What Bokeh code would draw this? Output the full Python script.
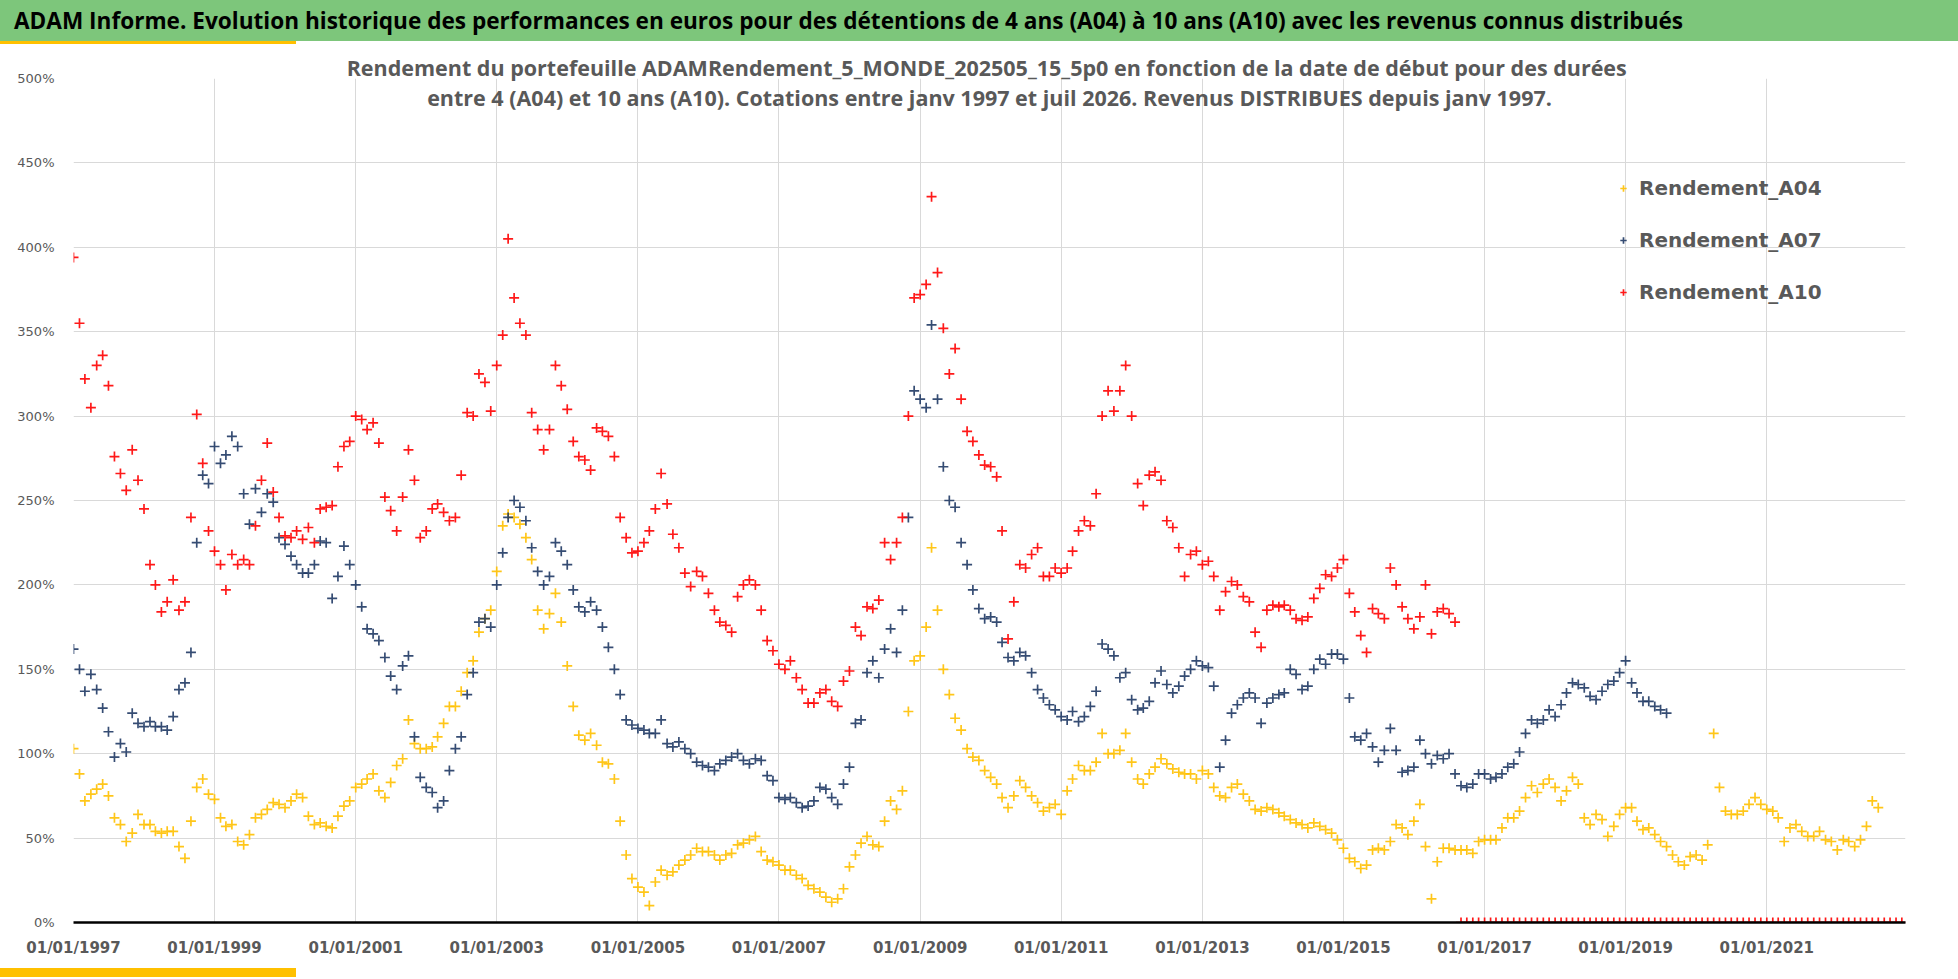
import pandas as pd
from bokeh.plotting import figure
from bokeh.models import (Range1d, FixedTicker, DatetimeTickFormatter, PrintfTickFormatter,
                          Label, Div, ColumnDataSource)
from bokeh.layouts import column
from bokeh.embed import file_html
from bokeh.resources import INLINE

# ---------------- data (monthly readings, start 01/1997) ----------------
START = "1997-01-01"

A04 = [
    103, 88, 72, 76, 79, 82, 75, 62, 58, 48, 53, 64,        # 1997
    58, 58, 54, 53, 54, 54, 45, 38, 60, 80, 85, 76,         # 1998
    73, 62, 57, 58, 48, 46, 52, 62, 64, 67, 71, 70,         # 1999
    68, 72, 76, 74, 63, 58, 59, 57, 56, 63, 69, 72,         # 2000
    80, 82, 85, 88, 78, 74, 83, 93, 97, 120, 106, 103,      # 2001
    103, 104, 110, 118, 128, 128, 137, 148, 155, 172, 180, 185,  # 2002
    208, 235, 242, 240, 236, 228, 215, 185, 174, 183, 195, 178,  # 2003
    152, 128, 111, 108, 112, 105, 95, 94, 85, 60, 40, 26,   # 2004
    21, 18, 10, 24, 31, 28, 30, 34, 37, 40, 44, 42,         # 2005
    42, 40, 37, 40, 41, 46, 47, 49, 51, 42, 37, 36,         # 2006
    34, 31, 31, 28, 26, 22, 20, 18, 15, 12, 14, 20,         # 2007
    33, 40, 47, 51, 46, 45, 60, 72, 67, 78, 125, 155,       # 2008
    158, 175, 222, 185, 150, 135, 121, 114, 103, 98, 96, 90,  # 2009
    86, 82, 74, 68, 75, 84, 80, 75, 71, 66, 68, 70,         # 2010
    64, 78, 85, 93, 90, 90, 95, 112, 100, 100, 102, 112,    # 2011
    95, 85, 82, 88, 92, 97, 94, 91, 89, 88, 88, 85,         # 2012
    90, 88, 80, 75, 74, 80, 82, 76, 72, 67, 66, 68,         # 2013
    67, 65, 63, 61, 59, 58, 56, 59, 57, 55, 53, 49,         # 2014
    44, 38, 36, 32, 34, 43, 44, 43, 48, 58, 56, 52,         # 2015
    60, 70, 45, 14, 36, 44, 44, 43, 43, 43, 41, 48,         # 2016
    49, 49, 49, 56, 62, 62, 66, 74, 81, 77, 82, 85,         # 2017
    80, 72, 78, 86, 82, 62, 58, 64, 61, 51, 57, 64,         # 2018
    68, 68, 60, 55, 56, 52, 48, 45, 40, 36, 34, 39,         # 2019
    40, 37, 46, 112, 80, 66, 64, 64, 66, 70, 74, 70,        # 2020
    67, 66, 62, 48, 56, 58, 54, 51, 51, 54, 49, 48,         # 2021
    43, 49, 48, 45, 49, 57, 72, 68,                         # 2022
]

A07 = [
    162, 150, 137, 147, 138, 127, 113, 98, 106, 101, 124, 118,   # 1997
    116, 119, 116, 116, 114, 122, 138, 142, 160, 225, 265, 260,  # 1998
    282, 272, 277, 288, 282, 254, 236, 257, 243, 254, 249, 228,  # 1999
    224, 217, 212, 207, 207, 212, 226, 225, 192, 205, 223, 212,  # 2000
    200, 187, 174, 171, 167, 157, 146, 138, 152, 158, 110, 86,   # 2001
    80, 77, 68, 72, 90, 103, 110, 135, 148, 178, 180, 175,       # 2002
    200, 219, 240, 250, 246, 238, 222, 208, 200, 205, 225, 220,  # 2003
    212, 197, 187, 184, 190, 185, 175, 163, 150, 135, 120, 117,  # 2004
    115, 114, 112, 112, 120, 106, 104, 107, 103, 100, 95, 93,    # 2005
    92, 90, 94, 96, 98, 100, 96, 94, 97, 96, 87, 84,             # 2006
    74, 73, 74, 71, 68, 69, 72, 80, 79, 74, 70, 82,              # 2007
    92, 118, 120, 148, 155, 145, 162, 174, 160, 185, 240, 315,   # 2008
    310, 305, 354, 310, 270, 250, 246, 225, 212, 197, 186, 180,  # 2009
    181, 178, 166, 157, 155, 160, 158, 148, 138, 133, 129, 126,  # 2010
    122, 120, 125, 119, 122, 128, 137, 165, 162, 158, 145, 148,  # 2011
    132, 126, 127, 131, 142, 149, 141, 136, 140, 146, 150, 155,  # 2012
    152, 151, 140, 92, 108, 124, 129, 133, 136, 133, 118, 130,   # 2013
    133, 135, 136, 150, 147, 138, 140, 150, 156, 153, 159, 159,  # 2014
    156, 133, 110, 108, 112, 104, 95, 102, 115, 102, 89, 90,     # 2015
    92, 108, 100, 94, 99, 97, 100, 88, 81, 80, 82, 88,           # 2016
    88, 85, 86, 88, 92, 94, 101, 112, 120, 118, 120, 126,        # 2017
    122, 129, 136, 142, 141, 139, 134, 132, 137, 141, 143, 148,  # 2018
    155, 142, 136, 131, 131, 128, 126, 124,                      # 2019
]

A10 = [
    394, 355, 322, 305, 330, 336, 318, 276, 266, 256, 280, 262,  # 1997
    245, 212, 200, 184, 190, 203, 185, 190, 240, 301, 272, 232,  # 1998
    220, 212, 197, 218, 212, 215, 212, 235, 262, 284, 255, 240,  # 1999
    229, 228, 232, 227, 234, 225, 245, 246, 247, 270, 282, 285,  # 2000
    300, 298, 292, 296, 284, 252, 244, 232, 252, 280, 262, 228,  # 2001
    232, 245, 248, 243, 238, 240, 265, 302, 300, 325, 320, 303,  # 2002
    330, 348, 405, 370, 355, 348, 302, 292, 280, 292, 330, 318,  # 2003
    304, 285, 276, 274, 268, 293, 291, 288, 276, 240, 228, 219,  # 2004
    220, 225, 232, 245, 266, 248, 230, 222, 207, 199, 208, 205,  # 2005
    195, 185, 178, 176, 172, 193, 200, 203, 200, 185, 167, 161,  # 2006
    153, 150, 155, 145, 138, 130, 130, 136, 138, 131, 128, 143,  # 2007
    149, 175, 170, 187, 186, 191, 225, 215, 225, 240, 300, 370,  # 2008
    372, 378, 430, 385, 352, 325, 340, 310, 291, 285, 277, 271,  # 2009
    270, 264, 232, 168, 190, 212, 210, 218, 222, 205, 205, 210,  # 2010
    207, 210, 220, 232, 238, 235, 254, 300, 315, 303, 315, 330,  # 2011
    300, 260, 247, 265, 267, 262, 238, 234, 222, 205, 218, 220,  # 2012
    212, 214, 205, 185, 196, 202, 200, 193, 190, 172, 163, 185,  # 2013
    188, 187, 188, 185, 180, 179, 181, 192, 198, 206, 205, 210,  # 2014
    215, 195, 184, 170, 160, 186, 183, 180, 210, 200, 187, 180,  # 2015
    174, 181, 200, 171, 184, 186, 183, 178,                      # 2016 (jan-aug)
    0, 0, 0, 0,                                                  # 2016 (sep-dec)
    0, 0, 0, 0, 0, 0, 0, 0, 0, 0, 0, 0,                          # 2017
    0, 0, 0, 0, 0, 0, 0, 0, 0, 0, 0, 0,                          # 2018
    0, 0, 0, 0, 0, 0, 0, 0, 0, 0, 0, 0,                          # 2019
    0, 0, 0, 0, 0, 0, 0, 0, 0, 0, 0, 0,                          # 2020
    0, 0, 0, 0, 0, 0, 0, 0, 0, 0, 0, 0,                          # 2021
    0, 0, 0, 0, 0, 0, 0, 0, 0, 0, 0, 0,                          # 2022
]

SERIES_NAMES = ["Rendement_A04", "Rendement_A07", "Rendement_A10"]
SERIES_COLORS = ["#FFC000", "#1F3864", "#FF0000"]

TICK_YEARS = [1997, 1999, 2001, 2003, 2005, 2007, 2009, 2011, 2013, 2015, 2017, 2019, 2021]
Y_TICKS = [0, 50, 100, 150, 200, 250, 300, 350, 400, 450, 500]

TITLE = ("ADAM Informe. Evolution historique des performances en euros pour des détentions "
         "de 4 ans (A04) à 10 ans (A10) avec les revenus connus distribués")
SUB1 = ("Rendement du portefeuille ADAMRendement_5_MONDE_202505_15_5p0  en fonction de la "
        "date de début pour des durées")
SUB2 = ("entre 4 (A04) et 10 ans (A10). Cotations entre janv 1997 et juil 2026. "
        "Revenus DISTRIBUES depuis janv 1997.")

X_START = pd.Timestamp("1997-01-01")
X_END = pd.Timestamp("2022-12-20")

W = 1958

# ---------------- figure ----------------
p = figure(width=W, height=921, x_axis_type="datetime", output_backend="svg",
           toolbar_location=None,
           x_range=Range1d(X_START, X_END), y_range=Range1d(0, 500),
           min_border_left=73, min_border_right=53, min_border_top=34, min_border_bottom=43)
p.outline_line_color = None
p.background_fill_color = "white"
p.border_fill_color = "white"

for vals, name, col in zip([A04, A07, A10], SERIES_NAMES, SERIES_COLORS):
    src = ColumnDataSource(dict(x=pd.date_range(START, periods=len(vals), freq="MS"), y=vals))
    p.scatter("x", "y", source=src, marker="cross", size=10, line_width=1.7,
              line_color=col, line_alpha=0.9, legend_label=name)

xticks = [pd.Timestamp(f"{y}-01-01").value / 1e6 for y in TICK_YEARS]
p.xaxis.ticker = FixedTicker(ticks=xticks)
p.xgrid.ticker = FixedTicker(ticks=xticks)
fmt = "%d/%m/%Y"
p.xaxis.formatter = DatetimeTickFormatter(days=fmt, months=fmt, years=fmt, hours=fmt,
                                          minutes=fmt, seconds=fmt, milliseconds=fmt)
p.yaxis.ticker = FixedTicker(ticks=Y_TICKS)
p.yaxis.formatter = PrintfTickFormatter(format="%d%%")

p.xgrid.grid_line_color = "#D9D9D9"
p.ygrid.grid_line_color = "#D9D9D9"
p.xgrid.grid_line_width = 1
p.ygrid.grid_line_width = 1

p.xaxis.axis_line_color = "black"
p.xaxis.axis_line_width = 2.5
p.xaxis.major_tick_line_color = None
p.xaxis.minor_tick_line_color = None
p.xaxis.major_label_text_font = "DejaVu Sans"
p.xaxis.major_label_text_font_style = "bold"
p.xaxis.major_label_text_font_size = "15px"
p.xaxis.major_label_text_color = "#595959"
p.xaxis.major_label_standoff = 10

p.yaxis.axis_line_color = None
p.yaxis.major_tick_line_color = None
p.yaxis.minor_tick_line_color = None
p.yaxis.major_label_text_font = "DejaVu Sans"
p.yaxis.major_label_text_font_size = "13px"
p.yaxis.major_label_text_color = "#595959"
p.yaxis.major_label_standoff = 13

# subtitle: first line as the figure title, second line inside the frame
p.title.text = SUB1
p.title.align = "center"
p.title.text_font = "Open Sans"
p.title.text_font_style = "bold"
p.title.text_font_size = "21.5px"
p.title.text_color = "#595959"
p.title.standoff = -6

x_mid = (X_START.value + X_END.value) / 2 / 1e6
p.add_layout(Label(x=x_mid, y=488.7, text=SUB2, text_align="center", text_baseline="middle",
                   text_font="Open Sans", text_font_style="bold", text_font_size="21.5px",
                   text_color="#595959"))

leg = p.legend[0]
leg.location = (1542, 618)
leg.border_line_color = None
leg.background_fill_alpha = 0
leg.padding = 0
leg.margin = 0
leg.spacing = 28
leg.glyph_width = 16
leg.glyph_height = 20
leg.label_height = 20
leg.label_standoff = 8
leg.label_text_font = "DejaVu Sans"
leg.label_text_font_style = "bold"
leg.label_text_font_size = "20px"
leg.label_text_color = "#595959"

top = Div(text=(
    f'<div style="width:{W}px;height:41px;background:#7DC67B;color:#000;'
    'font-family:\'Open Sans\';font-weight:bold;font-size:22.6px;line-height:41px;'
    'padding-left:14px;box-sizing:border-box;white-space:nowrap;overflow:hidden">'
    + TITLE + '</div>'
    '<div style="width:296px;height:3px;background:#FFC000"></div>'),
    width=W, height=44, margin=(0, 0, 0, 0))
bottom = Div(text='<div style="margin-top:0px;width:296px;height:9px;background:#FFC000"></div>',
             width=W, height=14, margin=(0, 0, 0, 0))

layout = column(top, p, bottom, spacing=0)
open("out.html", "w").write(file_html(layout, INLINE))
